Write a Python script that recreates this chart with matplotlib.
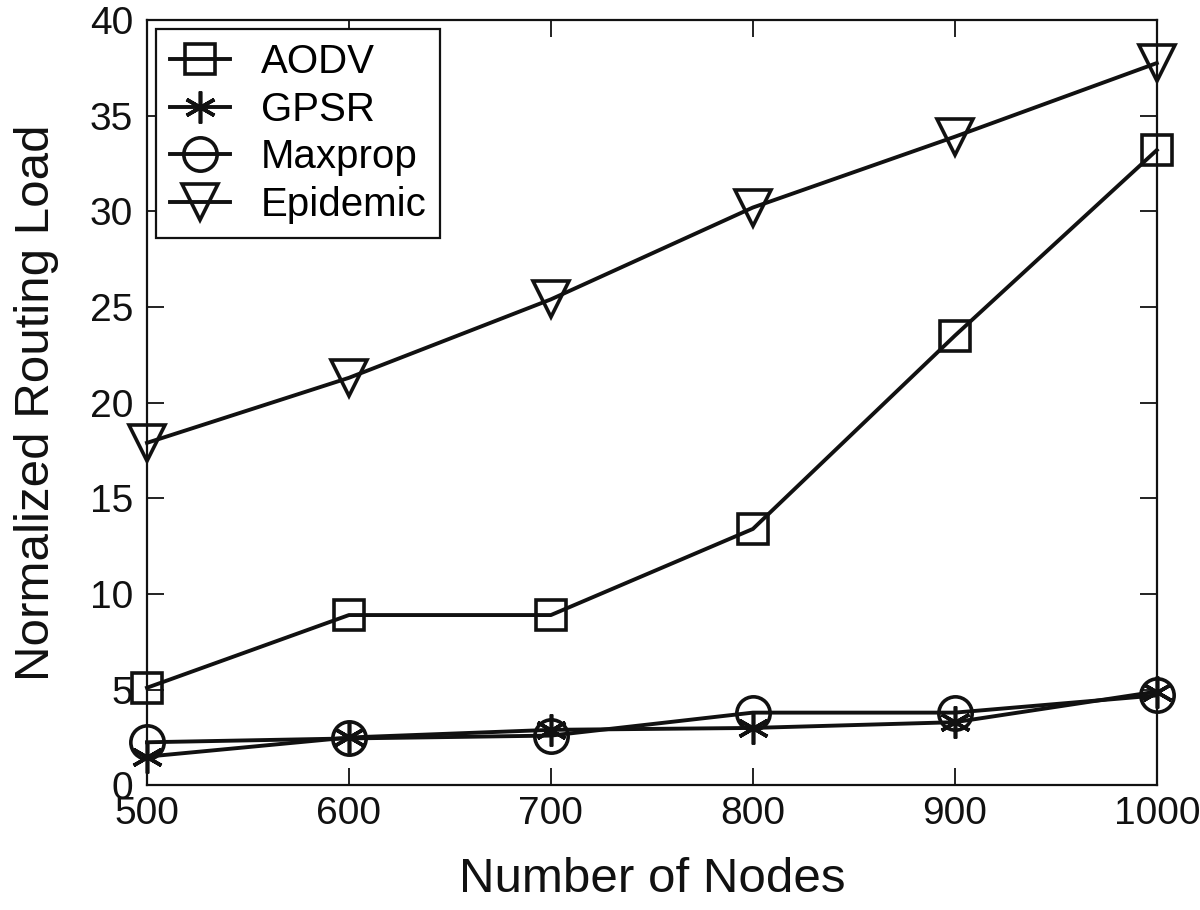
import matplotlib
matplotlib.use("Agg")
import matplotlib.pyplot as plt

nodes = [500, 600, 700, 800, 900, 1000]
aodv = [5.1, 8.9, 8.9, 13.4, 23.5, 33.2]
gpsr = [1.5, 2.5, 2.9, 3.0, 3.3, 4.9]
maxprop = [2.25, 2.45, 2.6, 3.8, 3.8, 4.7]
epidemic = [17.9, 21.3, 25.4, 30.2, 33.9, 37.75]
yticks = [0, 5, 10, 15, 20, 25, 30, 35, 40]

plt.rcParams["font.family"] = ["Liberation Sans", "DejaVu Sans"]

INK = "#111111"
fig = plt.figure(figsize=(12, 9.1), dpi=100)
ax = fig.add_axes([0.1225, 0.137, 0.8415, 0.841])

kw = dict(color=INK, lw=2.8, mfc="none", mew=2.6, clip_on=False, zorder=3)
ax.plot(nodes, aodv, marker="s", ms=21, label="AODV", **kw)
ax.plot(nodes, gpsr, marker=(6, 2, 0), ms=23, label="GPSR", **kw)
ax.plot(nodes, maxprop, marker="o", ms=24, label="Maxprop", **kw)
ax.plot(nodes, epidemic, marker="v", ms=26, label="Epidemic", **kw)

leg = ax.legend(loc="upper left", fontsize=29,
                frameon=True, fancybox=False, edgecolor=INK, framealpha=1,
                borderaxespad=0.22, handlelength=1.5, labelspacing=0.24,
                borderpad=0.35, handletextpad=0.75)
leg.get_frame().set_linewidth(1.6)
leg.set_zorder(5)

ax.set_xlim(500, 1000)
ax.set_ylim(0, 40)
ax.set_xticks(nodes)
ax.set_yticks(yticks)
ax.tick_params(direction="in", length=12, width=1.3, labelsize=28,
               top=True, right=True, colors=INK)
ax.tick_params(axis="x", pad=8)
ax.tick_params(axis="y", pad=10)
for s in ax.spines.values():
    s.set_linewidth(1.6)
    s.set_color(INK)
ax.set_xlabel("Number of Nodes", fontsize=35.5, labelpad=18, color=INK)
ax.set_ylabel("Normalized Routing Load", fontsize=35.5, labelpad=22, color=INK)

fig.savefig("out.png", dpi=100)
